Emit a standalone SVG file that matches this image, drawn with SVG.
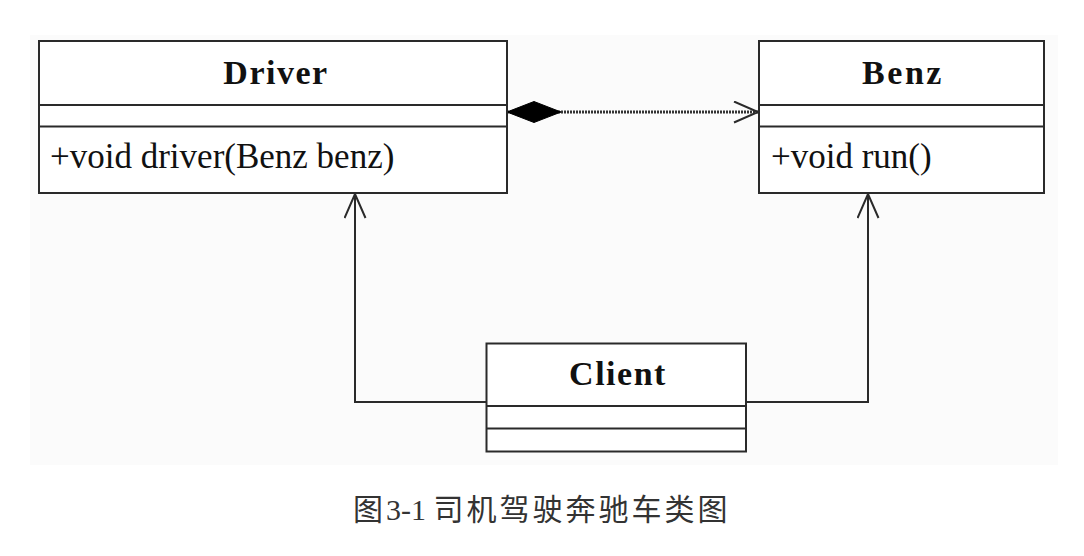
<svg xmlns="http://www.w3.org/2000/svg" width="1084" height="556" viewBox="0 0 1084 556">
<style>
.box{fill:#fff;stroke:#2a2a2a;stroke-width:2}
.sep{stroke:#2a2a2a;stroke-width:2}
.title{font-family:"Liberation Serif","Times New Roman",serif;font-weight:bold;font-size:34px;letter-spacing:1.5px;fill:#111;text-anchor:middle}
.op{font-family:"Liberation Serif","Times New Roman",serif;font-size:35px;fill:#111}
.conn{fill:none;stroke:#2a2a2a;stroke-width:2}
.cap{font-family:"Noto Sans CJK SC","Liberation Serif",serif;font-size:30px;fill:#333;letter-spacing:3px}
</style>
<defs>
<marker id="open" markerUnits="userSpaceOnUse" markerWidth="30" markerHeight="26" refX="26" refY="11" orient="auto">
<path d="M2,0.5 L26,11 L2,21.5" fill="none" stroke="#2a2a2a" stroke-width="2"/>
</marker>
<marker id="diamond" markerUnits="userSpaceOnUse" markerWidth="60" markerHeight="26" refX="1" refY="11" orient="auto">
<path d="M1,11 L28,0.5 L55,11 L28,21.5 Z" fill="#000" stroke="#000" stroke-width="1"/>
</marker>
</defs>
<rect x="0" y="0" width="1084" height="556" fill="#fff"/>
<rect x="30" y="35" width="1028" height="430" fill="#fbfbfb"/>
<g id="connectors">
<line x1="507" y1="112" x2="758" y2="112" fill="none" stroke="#333" stroke-width="3" stroke-dasharray="2 1" marker-start="url(#diamond)" marker-end="url(#open)"/>
<polyline class="conn" points="486,402 355,402 355,194" marker-end="url(#open)"/>
<polyline class="conn" points="746,402 868,402 868,194" marker-end="url(#open)"/>
</g>
<g id="driver">
<rect class="box" x="39" y="41" width="468" height="152"/>
<line class="sep" x1="39" y1="105" x2="507" y2="105"/>
<line class="sep" x1="39" y1="126.5" x2="507" y2="126.5"/>
<text class="title" x="276" y="84">Driver</text>
<text class="op" x="50" y="168">+void driver(Benz benz)</text>
</g>
<g id="benz">
<rect class="box" x="759" y="41" width="285" height="152"/>
<line class="sep" x1="759" y1="105" x2="1044" y2="105"/>
<line class="sep" x1="759" y1="126.5" x2="1044" y2="126.5"/>
<text class="title" x="903" y="84" style="letter-spacing:2.5px">Benz</text>
<text class="op" x="771" y="168">+void run()</text>
</g>
<g id="client">
<rect class="box" x="486.5" y="343.5" width="259.5" height="108"/>
<line class="sep" x1="486.5" y1="406" x2="746" y2="406"/>
<line class="sep" x1="486.5" y1="428.5" x2="746" y2="428.5"/>
<text class="title" x="618" y="385">Client</text>
</g>
<g id="caption">
<text class="cap" x="353" y="520">图<tspan font-family="Liberation Serif, serif" font-size="30" letter-spacing="0">3-1 </tspan>司机驾驶奔驰车类图</text>
</g>
</svg>
